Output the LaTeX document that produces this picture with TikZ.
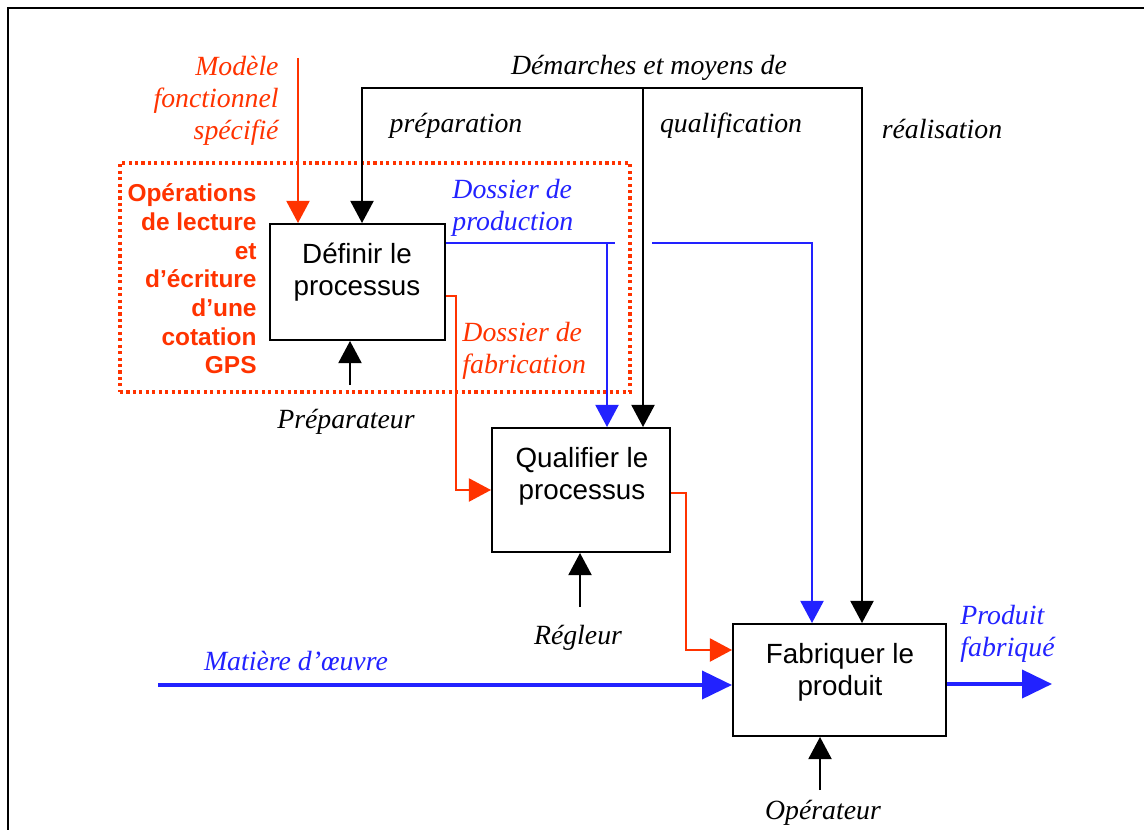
\documentclass[tikz,border=0pt]{standalone}
\usepackage{fontspec}
\setmainfont{Liberation Serif}
\newfontfamily\arialfont{Liberation Sans}
\usetikzlibrary{arrows.meta,fit}
\definecolor{idefred}{RGB}{255,51,0}
\definecolor{idefblue}{RGB}{34,34,255}
\begin{document}
\begin{tikzpicture}[x=0.45pt,y=-0.45pt,
  box/.style={draw, line width=0.9pt, inner sep=0pt},
  boxtext/.style={font=\arialfont\fontsize{12.5}{14.4}\selectfont, align=center, inner sep=0pt},
  lab/.style={font=\itshape\fontsize{12.5}{14.4}\selectfont, inner sep=0pt},
  redlab/.style={font=\arialfont\bfseries\fontsize{11}{12.9}\selectfont, text=idefred, align=right, inner sep=0pt},
  flow/.style={line width=0.7pt, -{Triangle[length=10pt,width=10.5pt]}},
  bothflow/.style={line width=0.7pt, {Triangle[length=10pt,width=10.5pt]}-{Triangle[length=10pt,width=10.5pt]}},
  bigflow/.style={line width=1.8pt, idefblue, -{Triangle[length=13.5pt,width=12.6pt]}},
  group/.style={draw=idefred, line width=1.4pt, dash pattern=on 1.4pt off 1.5pt, inner sep=0pt}
]
\useasboundingbox (0,0) rectangle (1144,830);

% page frame (top and left edges)
\draw[line width=1.1pt] (1144,8) -- (8,8) -- (8,830);

% activity boxes
\node[box, fit={(270,224) (445,340)}] (A) {};
\node[boxtext] (At) at (357,272) {Définir le\\processus};
\node[box, fit={(492,428) (670,552)}] (B) {};
\node[boxtext] (Bt) at (582,476) {Qualifier le\\processus};
\node[box, fit={(733,624) (946,736)}] (C) {};
\node[boxtext] (Ct) at (840,672) {Fabriquer le\\produit};

% dotted group around the first activity
\node[group, fit={(120,163) (630,392)}] (G) {};
\node[redlab, anchor=east] (ops) at (257,279) {Opérations\\de lecture\\et\\d’écriture\\d’une\\cotation\\GPS};

% functional model input
\node[lab, text=idefred, align=right, anchor=east] (mod) at (279,101) {Modèle\\fonctionnel\\spécifié};
\coordinate (m0) at (298,58);
\draw[flow, idefred] (m0) -- (A.north -| m0);

% controls: methods and means
\node[lab] (dem) at (649,68) {Démarches et moyens de};
\node[lab] (prep) at (456,126) {préparation};
\node[lab] (qual) at (731,126) {qualification};
\node[lab] (real) at (942,129) {réalisation};
\coordinate (c1) at (362,88);
\coordinate (c2) at (643,88);
\coordinate (c3) at (862,88);
\draw[bothflow] (A.north -| c1) -- (c1) -- (c3) -- (C.north -| c3);
\draw[flow] (c2) -- (B.north -| c2);

% production file
\node[lab, text=idefblue, align=left, anchor=west] (dp) at (452,208) {Dossier de\\production};
\coordinate (b1) at (607,243);
\coordinate (bx) at (615,243);
\coordinate (b2) at (652,243);
\coordinate (b3) at (812,243);
\draw[line width=0.7pt, idefblue] (A.east |- b1) -- (bx);
\draw[flow, idefblue] (b1) -- (B.north -| b1);
\draw[flow, idefblue] (b2) -- (b3) -- (C.north -| b3);

% manufacturing file
\node[lab, text=idefred, align=left, anchor=west] (df) at (462,351) {Dossier de\\fabrication};
\coordinate (r1) at (456,296);
\coordinate (r2) at (456,490);
\draw[flow, idefred] (A.east |- r1) -- (r1) -- (r2) -- (B.west |- r2);
\coordinate (r3) at (686,493);
\coordinate (r4) at (686,650);
\draw[flow, idefred] (B.east |- r3) -- (r3) -- (r4) -- (C.west |- r4);

% mechanisms
\coordinate (pa) at (350,385);
\draw[flow] (pa) -- (A.south -| pa);
\node[lab] (prt) at (346,422) {Préparateur};
\coordinate (pb) at (580,607);
\draw[flow] (pb) -- (B.south -| pb);
\node[lab] (reg) at (578,638) {Régleur};
\coordinate (pc) at (820,790);
\draw[flow] (pc) -- (C.south -| pc);
\node[lab] (opr) at (823,813) {Opérateur};

% raw material in, product out
\node[lab, text=idefblue] (mat) at (296,661) {Matière d’œuvre};
\coordinate (w0) at (158,685);
\draw[bigflow] (w0) -- (C.west |- w0);
\coordinate (o1) at (1052,684);
\draw[bigflow] (C.east |- o1) -- (o1);
\node[lab, text=idefblue, align=left, anchor=west] (prod) at (960,634) {Produit\\fabriqué};
\end{tikzpicture}
\end{document}
